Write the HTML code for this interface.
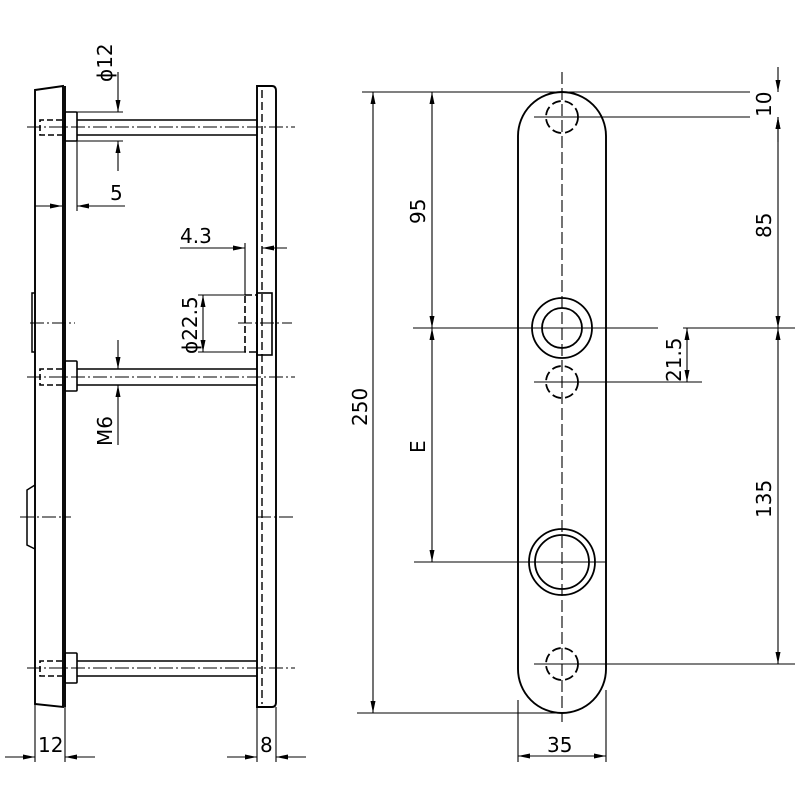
<!DOCTYPE html>
<html><head><meta charset="utf-8"><style>
html,body{margin:0;padding:0;background:#fff}
svg{display:block}
text{font-family:"DejaVu Sans","Liberation Sans",sans-serif;font-size:20px;fill:#000}
</style></head><body>
<svg width="800" height="800" viewBox="0 0 800 800" xmlns="http://www.w3.org/2000/svg">
<defs>
<marker id="a" viewBox="0 0 12 6" refX="12" refY="3" markerWidth="12" markerHeight="6" orient="auto" markerUnits="userSpaceOnUse"><path d="M0,0.5 L12,3 L0,5.5Z" fill="#000"/></marker>
</defs>
<g stroke="#000" fill="none" stroke-width="1.3">
<path d="M35,90 L63,86 L63,707 L35,704 Z" stroke-width="1.9"/>
<line x1="65" y1="86" x2="65" y2="707" stroke-width="1.9"/>
<path d="M35,293 L32,293 L32,352 L35,352" stroke-width="1.5"/>
<path d="M35,485 L27,490 L27,545 L35,549" stroke-width="1.5"/>
<path d="M257,86 L272,86 Q276,86 276,91 L276,702 Q276,707 272,707 L257,707 Z" stroke-width="1.9"/>
<line x1="262" y1="90" x2="262" y2="704" stroke-dasharray="8,4" stroke-width="1.4"/>
<rect x="257" y="293" width="15" height="62" stroke-width="1.6"/>
<rect x="245" y="295" width="12" height="57" stroke-dasharray="7,3" stroke-width="1.6"/>
<g stroke-width="1.6">
<rect x="65" y="112" width="12" height="29" rx="1"/>
<path d="M77,120 H257 M77,135 H257"/>
<path d="M62,120 H40 V135 H62" stroke-dasharray="6,3"/>
<rect x="65" y="361" width="12" height="30" rx="1"/>
<path d="M77,369 H257 M77,385 H257"/>
<path d="M62,369 H40 V385 H62" stroke-dasharray="6,3"/>
<rect x="65" y="653" width="12" height="30" rx="1"/>
<path d="M77,661 H257 M77,676 H257"/>
<path d="M62,661 H40 V676 H62" stroke-dasharray="6,3"/>
</g>
<g stroke-width="1" stroke-dasharray="14,3,2,3">
<line x1="27" y1="127" x2="295" y2="127"/>
<line x1="27" y1="377" x2="295" y2="377"/>
<line x1="27" y1="668" x2="295" y2="668"/>
<line x1="30" y1="323" x2="75" y2="323"/>
<line x1="238" y1="323" x2="292" y2="323"/>
<line x1="20" y1="517" x2="71" y2="517"/>
<line x1="257" y1="517" x2="296" y2="517"/>
</g>
<g stroke-width="1.1">
<path d="M77,112 H123 M77,141 H123"/>
<line x1="118" y1="72" x2="118" y2="112" marker-end="url(#a)"/>
<line x1="118" y1="171" x2="118" y2="141" marker-end="url(#a)"/>
<line x1="77" y1="141" x2="77" y2="211"/>
<line x1="35" y1="206" x2="62" y2="206" marker-end="url(#a)"/>
<line x1="125" y1="206" x2="77" y2="206" marker-end="url(#a)"/>
<line x1="245" y1="243" x2="245" y2="295"/>
<line x1="180" y1="248" x2="245" y2="248" marker-end="url(#a)"/>
<line x1="287" y1="248" x2="262" y2="248" marker-end="url(#a)"/>
<path d="M198,295 H245 M198,352 H245"/>
<line x1="203" y1="323" x2="203" y2="295" marker-end="url(#a)"/>
<line x1="203" y1="323" x2="203" y2="352" marker-end="url(#a)"/>
<line x1="118" y1="340" x2="118" y2="369" marker-end="url(#a)"/>
<line x1="118" y1="445" x2="118" y2="385" marker-end="url(#a)"/>
<path d="M35,704 V762 M65,707 V762 M257,707 V762 M276,707 V762"/>
<line x1="5" y1="757" x2="35" y2="757" marker-end="url(#a)"/>
<line x1="95" y1="757" x2="65" y2="757" marker-end="url(#a)"/>
<line x1="227" y1="757" x2="257" y2="757" marker-end="url(#a)"/>
<line x1="306" y1="757" x2="276" y2="757" marker-end="url(#a)"/>
</g>
<path d="M518,136 A44,44 0 0 1 606,136 L606,669 A44,44 0 0 1 518,669 Z" stroke-width="1.9"/>
<line x1="562" y1="72" x2="562" y2="722" stroke-dasharray="12,4" stroke-width="1.1"/>
<g stroke-width="1.8">
<circle cx="562" cy="117" r="16" stroke-dasharray="9,4"/>
<circle cx="562" cy="382" r="16" stroke-dasharray="9,4"/>
<circle cx="562" cy="664" r="16" stroke-dasharray="9,4"/>
<circle cx="562" cy="328" r="30"/>
<circle cx="562" cy="328" r="20"/>
<circle cx="562" cy="562" r="33"/>
<circle cx="562" cy="562" r="27"/>
</g>
<g stroke-width="1.1">
<path d="M362,92 H750 M534,117 H750 M413,328 H658 M683,328 H795 M534,382 H702 M414,562 H606 M534,664 H795 M357,713 H562"/>
<path d="M518,700 V762 M606,690 V762"/>
<line x1="373" y1="402" x2="373" y2="92" marker-end="url(#a)"/>
<line x1="373" y1="402" x2="373" y2="713" marker-end="url(#a)"/>
<line x1="432" y1="210" x2="432" y2="92" marker-end="url(#a)"/>
<line x1="432" y1="210" x2="432" y2="328" marker-end="url(#a)"/>
<line x1="432" y1="340" x2="432" y2="328" marker-end="url(#a)"/>
<line x1="432" y1="340" x2="432" y2="562" marker-end="url(#a)"/>
<line x1="778" y1="67" x2="778" y2="92" marker-end="url(#a)"/>
<line x1="778" y1="142" x2="778" y2="117" marker-end="url(#a)"/>
<line x1="778" y1="220" x2="778" y2="328" marker-end="url(#a)"/>
<line x1="778" y1="220" x2="778" y2="117" marker-end="url(#a)"/>
<line x1="778" y1="500" x2="778" y2="328" marker-end="url(#a)"/>
<line x1="778" y1="500" x2="778" y2="664" marker-end="url(#a)"/>
<line x1="687" y1="355" x2="687" y2="328" marker-end="url(#a)"/>
<line x1="687" y1="355" x2="687" y2="382" marker-end="url(#a)"/>
<line x1="562" y1="756" x2="518" y2="756" marker-end="url(#a)"/>
<line x1="562" y1="756" x2="606" y2="756" marker-end="url(#a)"/>
</g>
</g>
<text x="110" y="200">5</text>
<text x="180" y="243">4.3</text>
<text x="38" y="752">12</text>
<text x="260" y="752">8</text>
<text x="547" y="752">35</text>
<text transform="translate(112,82) rotate(-90)">ϕ12</text>
<text transform="translate(197,354) rotate(-90)">ϕ22.5</text>
<text transform="translate(112,446) rotate(-90)">M6</text>
<text transform="translate(367,426) rotate(-90)">250</text>
<text transform="translate(425,224) rotate(-90)">95</text>
<text transform="translate(425,453) rotate(-90)">E</text>
<text transform="translate(771,117) rotate(-90)">10</text>
<text transform="translate(771,238) rotate(-90)">85</text>
<text transform="translate(771,518) rotate(-90)">135</text>
<text transform="translate(681,382) rotate(-90)">21.5</text>
</svg>
</body></html>
